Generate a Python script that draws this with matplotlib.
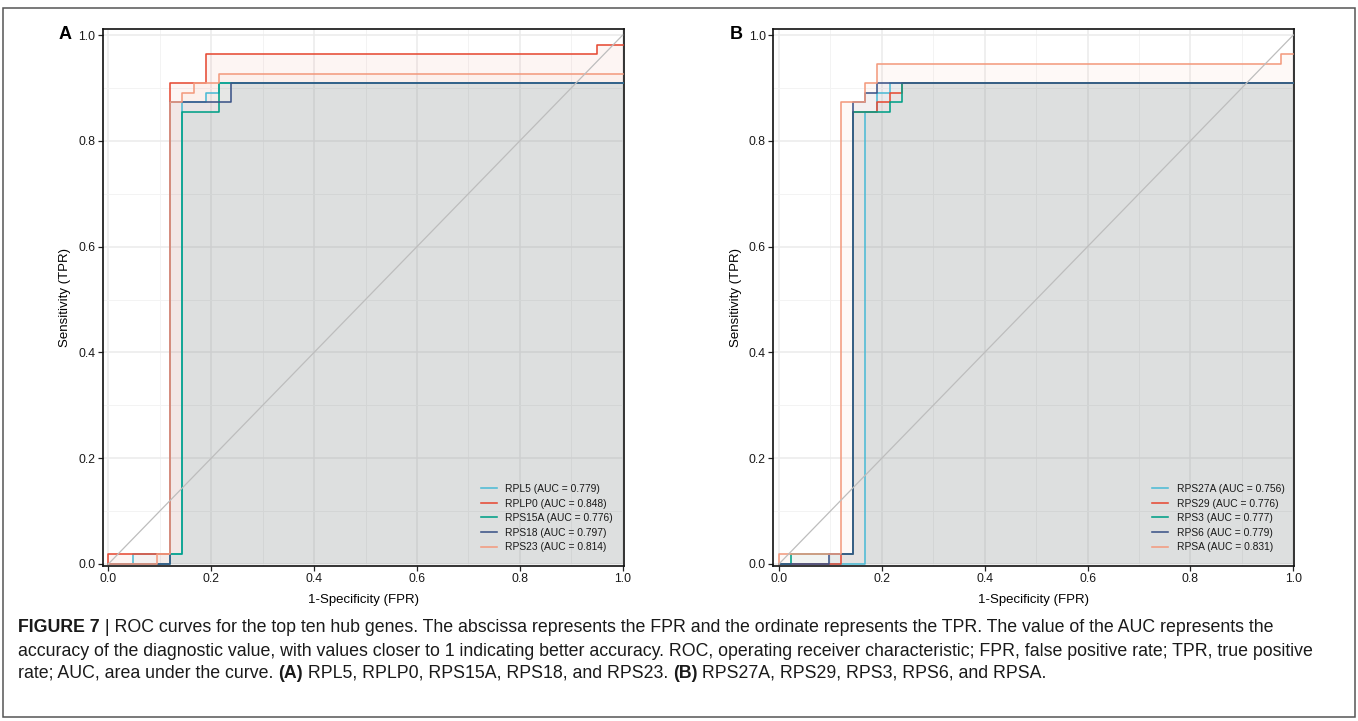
import matplotlib
matplotlib.use("Agg")
import matplotlib.pyplot as plt
from matplotlib.patches import Rectangle
import numpy as np

W, H = 1358, 721

# panel A: step corners of each ROC curve (fpr, tpr after each jump)
genes_a = ["RPL5", "RPLP0", "RPS15A", "RPS18", "RPS23"]
auc_a = [0.779, 0.848, 0.776, 0.797, 0.814]
rpl5_fpr = [0, 0.047, 0.143, 0.190, 0.215, 1.0]
rpl5_tpr = [0, 0.018, 0.873, 0.891, 0.909, 0.909]
rplp0_fpr = [0, 0, 0.119, 0.190, 0.950, 1.0]
rplp0_tpr = [0, 0.018, 0.909, 0.964, 0.982, 0.982]
rps15a_fpr = [0, 0.119, 0.143, 0.215, 1.0]
rps15a_tpr = [0, 0.018, 0.855, 0.909, 0.909]
rps18_fpr = [0, 0.119, 0.239, 1.0]
rps18_tpr = [0, 0.873, 0.909, 0.909]
rps23_fpr = [0, 0.095, 0.119, 0.143, 0.166, 0.215, 1.0]
rps23_tpr = [0, 0.018, 0.873, 0.891, 0.909, 0.927, 0.927]

# panel B
genes_b = ["RPS27A", "RPS29", "RPS3", "RPS6", "RPSA"]
auc_b = [0.756, 0.776, 0.777, 0.779, 0.831]
rps27a_fpr = [0, 0.167, 0.191, 0.215, 1.0]
rps27a_tpr = [0, 0.855, 0.891, 0.909, 0.909]
rps29_fpr = [0, 0.120, 0.143, 0.191, 0.215, 0.240, 1.0]
rps29_tpr = [0, 0.018, 0.855, 0.873, 0.891, 0.909, 0.909]
rps3_fpr = [0, 0.024, 0.143, 0.215, 0.240, 1.0]
rps3_tpr = [0, 0.018, 0.855, 0.873, 0.909, 0.909]
rps6_fpr = [0, 0.097, 0.143, 0.167, 0.191, 1.0]
rps6_tpr = [0, 0.018, 0.873, 0.891, 0.909, 0.909]
rpsa_fpr = [0, 0, 0.120, 0.167, 0.191, 0.976, 1.0]
rpsa_tpr = [0, 0.018, 0.873, 0.909, 0.945, 0.964, 0.964]

npg = ["#4DBBD5", "#E64B35", "#00A087", "#3C5488", "#F39B7F"]

curves_a = [(rpl5_fpr, rpl5_tpr), (rplp0_fpr, rplp0_tpr), (rps15a_fpr, rps15a_tpr),
            (rps18_fpr, rps18_tpr), (rps23_fpr, rps23_tpr)]
curves_b = [(rps27a_fpr, rps27a_tpr), (rps29_fpr, rps29_tpr), (rps3_fpr, rps3_tpr),
            (rps6_fpr, rps6_tpr), (rpsa_fpr, rpsa_tpr)]

plt.rcParams["font.family"] = ["Liberation Sans", "DejaVu Sans"]

fig = plt.figure(figsize=(W / 100, H / 100), dpi=100)


def px_axes(left, right, top, bottom):
    return fig.add_axes([left / W, 1 - bottom / H, (right - left) / W, (bottom - top) / H])


def draw_panel(ax, curves, genes, aucs, letter, leg_x):
    ax.set_xlim(-0.011, 1.0015)
    ax.set_ylim(-0.004, 1.011)
    ticks = np.arange(0, 1.01, 0.2)
    ax.set_xticks(ticks)
    ax.set_yticks(ticks)
    ax.set_xticks(np.arange(0.1, 1.0, 0.2), minor=True)
    ax.set_yticks(np.arange(0.1, 1.0, 0.2), minor=True)
    ax.xaxis.set_major_formatter(plt.FuncFormatter(lambda v, p: f"{v:.1f}"))
    ax.yaxis.set_major_formatter(plt.FuncFormatter(lambda v, p: f"{v:.1f}"))
    ax.grid(True, which="major", color="#EBEBEB", lw=1.1, zorder=0)
    ax.grid(True, which="minor", color="#F3F3F3", lw=0.7, zorder=0)
    ax.set_axisbelow(True)
    ax.tick_params(which="major", length=3.5, width=0.9, color="#222222",
                   labelsize=8.8, labelcolor="#1a1a1a", pad=1.8)
    ax.tick_params(which="minor", length=0)
    for s in ax.spines.values():
        s.set_linewidth(1.2)
        s.set_color("#111111")

    for (fx, ty), col in zip(curves, npg):
        ax.fill_between(fx, ty, 0, step="post", color=col, alpha=0.055, lw=0, zorder=1)
    for (fx, ty), col, g, a in zip(curves, npg, genes, aucs):
        ax.plot(fx, ty, drawstyle="steps-post", color=col, lw=1.15, zorder=3,
                label=f"{g} (AUC = {a:.3f})")
    ax.plot([0, 1], [0, 1], color="#BDBDBD", lw=0.9, zorder=4)

    ax.set_xlabel("1-Specificity (FPR)", fontsize=9.5, labelpad=6)
    ax.set_ylabel("Sensitivity (TPR)", fontsize=9.5, labelpad=5)
    leg = ax.legend(loc="lower left", bbox_to_anchor=(leg_x, 0.026), frameon=False,
                    fontsize=7.4, handlelength=1.55, handletextpad=0.85,
                    labelspacing=0.44, borderpad=0, borderaxespad=0)
    for t in leg.get_texts():
        t.set_color("#1a1a1a")
    ax.text(-0.059, 0.991, letter, transform=ax.transAxes, fontsize=13, fontweight="bold",
            ha="right", va="center")


ax_a = px_axes(102.7, 623.5, 29.2, 566.1)
ax_b = px_axes(773.3, 1294.1, 29.2, 566.1)
draw_panel(ax_a, curves_a, genes_a, auc_a, "A", 0.726)
draw_panel(ax_b, curves_b, genes_b, auc_b, "B", 0.727)

# outer frame of the figure
fig.patches.append(Rectangle((3 / W, 4 / H), 1352 / W, 709 / H, transform=fig.transFigure,
                             fill=False, edgecolor="#555555", lw=1.1))

caption = [
    [("FIGURE 7", "bold"), (" | ROC curves for the top ten hub genes. The abscissa represents the FPR and the ordinate represents the TPR. The value of the AUC represents the", "normal")],
    [("accuracy of the diagnostic value, with values closer to 1 indicating better accuracy. ROC, operating receiver characteristic; FPR, false positive rate; TPR, true positive", "normal")],
    [("rate; AUC, area under the curve. ", "normal"), ("(A)", "bold"),
     (" RPL5, RPLP0, RPS15A, RPS18, and RPS23. ", "normal"), ("(B)", "bold"),
     (" RPS27A, RPS29, RPS3, RPS6, and RPSA.", "normal")],
]
line_y = [628, 651, 673]

renderer = fig.canvas.get_renderer()
for parts, y in zip(caption, line_y):
    x = 18
    for s, w in parts:
        t = fig.text(x / W, 1 - y / H, s, fontsize=12.8, fontweight=w, va="center", ha="left",
                     color="#1a1a1a")
        x += t.get_window_extent(renderer).width

fig.savefig("out.png", dpi=100)
